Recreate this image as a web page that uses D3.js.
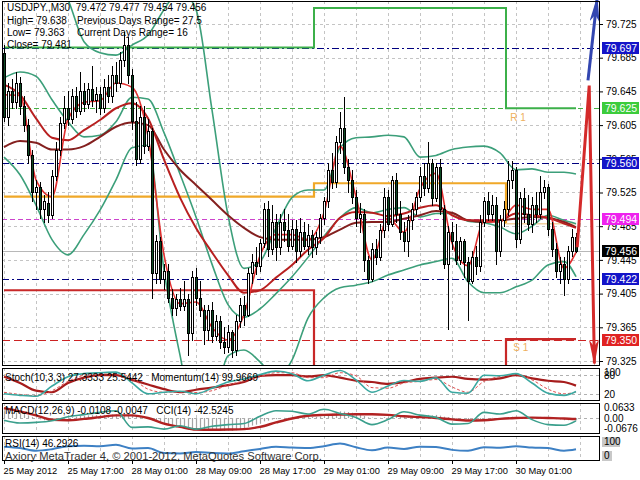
<!DOCTYPE html>
<html><head><meta charset="utf-8">
<script src="https://cdn.jsdelivr.net/npm/d3@7/dist/d3.min.js"></script>
<style>
html,body{margin:0;padding:0;background:#fff;}
svg{display:block;}
text{font-family:"Liberation Sans",Arial,sans-serif;}
</style></head><body>
<svg id="chart" width="640" height="480"></svg>
<script>
// ================= DATA =================
const barOpen=[79.690,79.615,79.645,79.632,79.655,79.628,79.605,79.570,79.525,79.532,
79.505,79.512,79.498,79.545,79.575,79.608,79.625,79.612,79.640,79.622,
79.645,79.630,79.648,79.635,79.642,79.625,79.650,79.640,79.665,79.655,
79.682,79.700,79.665,79.610,79.565,79.615,79.580,79.598,79.430,79.468,
79.422,79.432,79.400,79.388,79.398,79.390,79.398,79.358,79.425,79.400,
79.385,79.362,79.385,79.355,79.372,79.348,79.342,79.360,79.338,79.372,
79.392,79.380,79.430,79.442,79.438,79.465,79.505,79.458,79.490,79.460,
79.490,79.480,79.462,79.482,79.455,79.478,79.462,79.475,79.460,79.472,
79.495,79.515,79.552,79.538,79.585,79.602,79.555,79.540,79.520,79.495,
79.500,79.445,79.422,79.458,79.448,79.480,79.520,79.488,79.540,79.500,
79.478,79.468,79.492,79.505,79.520,79.545,79.530,79.560,79.518,79.555,
79.505,79.440,79.478,79.468,79.445,79.468,79.442,79.420,79.448,79.438,
79.490,79.515,79.500,79.510,79.455,79.492,79.505,79.540,79.552,79.470,
79.518,79.500,79.488,79.510,79.500,79.525,79.532,79.482,79.458,79.432,
79.440,79.422,79.455,79.472];
const barHigh=[79.700,79.655,79.660,79.668,79.662,79.640,79.612,79.575,79.540,79.538,
79.522,79.525,79.552,79.585,79.615,79.640,79.645,79.648,79.650,79.668,
79.655,79.655,79.675,79.650,79.650,79.660,79.665,79.675,79.680,79.692,
79.715,79.710,79.672,79.632,79.628,79.628,79.612,79.602,79.475,79.472,
79.440,79.440,79.410,79.405,79.412,79.420,79.405,79.432,79.435,79.420,
79.392,79.392,79.395,79.380,79.378,79.365,79.368,79.362,79.380,79.400,
79.402,79.435,79.452,79.460,79.470,79.512,79.515,79.510,79.500,79.500,
79.505,79.500,79.492,79.492,79.495,79.490,79.488,79.480,79.478,79.500,
79.520,79.560,79.572,79.592,79.620,79.638,79.565,79.552,79.528,79.512,
79.505,79.450,79.465,79.470,79.488,79.530,79.528,79.545,79.548,79.515,
79.490,79.498,79.512,79.525,79.555,79.560,79.585,79.565,79.560,79.565,
79.510,79.485,79.490,79.488,79.472,79.470,79.448,79.455,79.462,79.498,
79.520,79.525,79.522,79.520,79.498,79.515,79.562,79.562,79.555,79.525,
79.530,79.522,79.520,79.525,79.545,79.540,79.535,79.490,79.465,79.448,
79.448,79.462,79.482,79.477];
const barLow=[79.610,79.605,79.625,79.625,79.618,79.598,79.560,79.515,79.505,79.495,
79.490,79.490,79.495,79.540,79.570,79.602,79.605,79.608,79.615,79.618,
79.622,79.625,79.628,79.620,79.618,79.620,79.632,79.632,79.645,79.650,
79.675,79.655,79.600,79.558,79.560,79.572,79.575,79.400,79.418,79.418,
79.410,79.395,79.380,79.380,79.385,79.385,79.332,79.350,79.392,79.378,
79.345,79.350,79.348,79.350,79.340,79.335,79.336,79.330,79.332,79.365,
79.368,79.378,79.418,79.428,79.432,79.460,79.450,79.452,79.445,79.452,
79.468,79.455,79.458,79.443,79.450,79.458,79.452,79.448,79.452,79.465,
79.488,79.508,79.530,79.532,79.572,79.548,79.525,79.512,79.485,79.478,
79.432,79.418,79.420,79.440,79.445,79.472,79.480,79.485,79.490,79.470,
79.455,79.450,79.482,79.500,79.515,79.522,79.525,79.510,79.515,79.500,
79.435,79.363,79.458,79.440,79.440,79.425,79.374,79.418,79.428,79.432,
79.485,79.492,79.492,79.440,79.450,79.485,79.498,79.530,79.460,79.465,
79.490,79.480,79.478,79.490,79.495,79.518,79.475,79.450,79.425,79.418,
79.403,79.418,79.450,79.454];
const barClose=[79.615,79.645,79.632,79.655,79.628,79.605,79.570,79.525,79.532,79.505,
79.515,79.498,79.545,79.575,79.608,79.625,79.612,79.640,79.622,79.645,
79.630,79.648,79.635,79.642,79.625,79.650,79.640,79.665,79.655,79.682,
79.700,79.665,79.610,79.565,79.615,79.580,79.598,79.430,79.468,79.422,
79.432,79.400,79.388,79.398,79.390,79.398,79.358,79.425,79.400,79.385,
79.362,79.385,79.355,79.372,79.348,79.342,79.360,79.338,79.372,79.392,
79.380,79.430,79.442,79.438,79.465,79.505,79.458,79.490,79.460,79.490,
79.480,79.462,79.482,79.455,79.478,79.462,79.475,79.460,79.472,79.495,
79.515,79.552,79.538,79.585,79.602,79.555,79.540,79.520,79.495,79.500,
79.445,79.422,79.458,79.448,79.480,79.520,79.488,79.540,79.500,79.478,
79.468,79.492,79.505,79.520,79.545,79.530,79.560,79.518,79.555,79.505,
79.440,79.478,79.468,79.445,79.468,79.442,79.420,79.448,79.438,79.490,
79.515,79.500,79.510,79.455,79.492,79.505,79.540,79.552,79.470,79.518,
79.500,79.488,79.510,79.500,79.525,79.532,79.482,79.458,79.432,79.440,
79.422,79.455,79.472,79.456];

// indicator values read at these bar indices
const sampleBars=[0,4,8,12,16,20,24,28,32,36,40,44,48,52,56,60,64,68,72,76,80,84,88,92,96,100,104,108,112,116,120,124,128,132,136,140,143];
const bbUpper=[79.789,79.789,79.795,79.789,79.754,79.704,79.691,79.688,79.700,79.712,79.742,79.765,79.742,79.623,79.498,79.435,79.443,79.483,79.519,79.528,79.528,79.578,79.590,79.591,79.593,79.591,79.567,79.569,79.576,79.579,79.580,79.572,79.552,79.553,79.549,79.549,79.547];
const bbMiddle=[79.661,79.668,79.663,79.635,79.609,79.591,79.593,79.609,79.638,79.636,79.596,79.547,79.496,79.440,79.392,79.377,79.387,79.405,79.425,79.448,79.473,79.495,79.507,79.501,79.505,79.507,79.496,79.500,79.500,79.491,79.489,79.484,79.476,79.485,79.498,79.492,79.488];
const bbLower=[79.567,79.546,79.510,79.469,79.451,79.475,79.504,79.540,79.578,79.581,79.433,79.332,79.249,79.267,79.331,79.338,79.324,79.305,79.326,79.376,79.400,79.412,79.415,79.419,79.427,79.433,79.439,79.443,79.447,79.419,79.406,79.406,79.413,79.421,79.439,79.443,79.425];
const maFast=[79.641,79.640,79.540,79.520,79.612,79.632,79.634,79.655,79.650,79.592,79.451,79.393,79.395,79.365,79.350,79.380,79.450,79.475,79.475,79.469,79.501,79.580,79.520,79.445,79.495,79.478,79.530,79.548,79.465,79.438,79.490,79.490,79.510,79.505,79.505,79.435,79.454];
const maMid=[79.653,79.641,79.613,79.590,79.587,79.599,79.611,79.625,79.631,79.613,79.564,79.519,79.483,79.454,79.427,79.406,79.409,79.424,79.439,79.457,79.471,79.495,79.502,79.501,79.497,79.500,79.507,79.510,79.498,79.492,79.492,79.492,79.500,79.498,79.495,79.488,79.483];
const maSlow=[79.579,79.586,79.584,79.576,79.576,79.580,79.591,79.603,79.608,79.605,79.576,79.552,79.534,79.516,79.498,79.483,79.472,79.469,79.469,79.469,79.472,79.481,79.489,79.490,79.490,79.494,79.498,79.503,79.501,79.492,79.490,79.492,79.494,79.496,79.495,79.490,79.484];

const stochMain=[20,15,12,45,75,85,88,90,55,20,25,28,20,38,58,68,82,93,85,62,80,95,65,25,45,63,60,72,25,22,80,78,85,55,22,15,27.33];
const stochSignal=[25,18,14,30,60,80,86,88,70,35,25,26,24,30,48,62,75,88,88,72,72,88,78,40,38,55,60,66,42,25,60,76,82,65,35,20,25.54];
const momentum=[100.225,100.045,99.820,99.775,100.045,100.198,100.270,100.270,100.135,100.000,99.865,99.775,99.847,99.910,99.982,100.072,100.252,100.270,100.270,100.234,100.270,100.198,100.108,100.072,100.018,100.072,100.162,100.198,100.225,100.162,100.144,100.180,100.270,100.180,100.108,100.072,99.967];
const macdMain=[0.030,0.028,0.026,0.025,0.022,0.018,0.012,0.005,-0.001,-0.006,
-0.010,-0.013,-0.012,-0.010,-0.006,-0.002,0.001,0.004,0.006,0.009,
0.010,0.012,0.013,0.013,0.013,0.014,0.014,0.016,0.017,0.019,
0.022,0.021,0.016,0.009,0.008,0.005,0.004,-0.010,-0.016,-0.023,
-0.028,-0.034,-0.039,-0.042,-0.045,-0.047,-0.052,-0.050,-0.051,-0.052,
-0.054,-0.053,-0.055,-0.055,-0.057,-0.058,-0.057,-0.058,-0.055,-0.050,
-0.047,-0.040,-0.034,-0.030,-0.024,-0.015,-0.012,-0.007,-0.005,-0.001,
0.001,0.001,0.003,0.002,0.004,0.004,0.005,0.005,0.005,0.007,
0.010,0.016,0.019,0.025,0.030,0.029,0.027,0.024,0.019,0.016,
0.009,0.003,0.002,0.000,0.001,0.004,0.004,0.008,0.008,0.006,
0.004,0.005,0.006,0.007,0.010,0.011,0.014,0.012,0.014,0.011,
0.006,0.004,0.002,-0.001,-0.001,-0.003,-0.007,-0.007,-0.008,-0.004,
-0.001,0.000,0.001,-0.002,-0.001,0.000,0.004,0.006,0.002,0.003,
0.003,0.002,0.003,0.003,0.005,0.005,0.002,-0.001,-0.005,-0.007,
-0.010,-0.010,-0.009,-0.0108];
const macdSignal=[0.045,0.030,0.012,-0.008,-0.010,-0.004,0.004,0.012,0.012,0.000,-0.025,-0.040,-0.052,-0.053,-0.052,-0.050,-0.040,-0.020,-0.002,0.010,0.014,0.016,0.017,0.017,0.014,0.008,0.004,0.000,-0.006,-0.011,-0.010,-0.004,0.000,0.002,0.000,-0.002,-0.0047];
const cci=[-30,-80,-70,-40,30,70,110,140,-160,-150,-190,-130,-190,-140,-110,-90,40,140,130,80,165,90,20,-110,-20,120,60,20,-100,-90,110,80,140,-20,-110,-120,-42.52];
const rsi=[58,52,40,47,60,62,60,66,50,52,30,28,35,30,28,38,48,58,54,52,60,72,55,42,54,48,58,56,44,40,55,53,60,54,52,40,46.29];

const dateTickBars=[0,16,32,48,64,80,96,112,128];
const dateTickLabels=["25 May 2012","25 May 17:00","28 May 01:00","28 May 09:00","28 May 17:00","29 May 01:00","29 May 09:00","29 May 17:00","30 May 01:00"];
const priceTicks=[79.725,79.685,79.645,79.605,79.565,79.525,79.485,79.445,79.405,79.365,79.325];

const pivotBreakBars=[0,77.5,125.5,143];
const r1Values=[79.697,79.744,79.625];
const ppValues=[79.520,79.536,79.488];
const s1Values=[79.409,79.270,79.351];

const levelPrices=[79.697,79.625,79.560,79.494,79.456,79.422,79.350];

const forecastRedBars=[143.3,146.3,147.6];
const forecastRedPrices=[79.460,79.652,79.322];
const forecastBlueBars=[146,148.3];
const forecastBluePrices=[79.658,79.756];

const headerTitle="USDJPY.,M30  79.472 79.477 79.454 79.456";
const headerLeft=["High= 79.638","Low= 79.363","Close= 79.481"];
const headerRight=["Previous Days Range= 27.5","Current Days Range= 16"];
const stochLabel="Stoch(10,3,3) 27.3333 25.5442   Momentum(14) 99.9669";
const macdLabel="MACD(12,26,9) -0.0108 -0.0047   CCI(14) -42.5245";
const rsiLabel="RSI(14) 46.2926";
const watermark="Axiory MetaTrader 4, \u00A9 2001-2012, MetaQuotes Software Corp.";

// ================= DRAWING =================
const svg=d3.select("#chart");
const L=2, R=600;
const P={main:[1,366], stoch:[368,401], macd:[403,434], rsi:[436,461]};

const x=d3.scaleLinear().domain([0,144]).range([4,580]);
const y=d3.scaleLinear().domain([79.325,79.725]).range([361,24]);
const yStoch=d3.scaleLinear().domain([0,100]).range([P.stoch[1]-1,P.stoch[0]+1]);
const yMom=d3.scaleLinear().domain([99.55,100.45]).range([P.stoch[1]-1,P.stoch[0]+1]);
const yMacd=d3.scaleLinear().domain([-0.0676,0.0633]).range([P.macd[1]-1,P.macd[0]+1]);
const yCci=d3.scaleLinear().domain([-260,260]).range([P.macd[1]-1,P.macd[0]+1]);
const yRsi=d3.scaleLinear().domain([0,100]).range([P.rsi[1]-1,P.rsi[0]+1]);

const defs=svg.append("defs");
Object.entries(P).forEach(([k,v])=>{
  defs.append("clipPath").attr("id","clip-"+k).append("rect")
    .attr("x",L).attr("y",v[0]).attr("width",R-L).attr("height",v[1]-v[0]);
});
function mk(id,color){
  defs.append("marker").attr("id",id).attr("viewBox","0 0 26 10")
    .attr("refX",24).attr("refY",5).attr("markerWidth",26).attr("markerHeight",10)
    .attr("markerUnits","userSpaceOnUse").attr("orient","auto")
    .append("path").attr("d","M0,0 L26,5 L0,10 L7,5 Z").attr("fill",color);
}
mk("arrBlue","#3346b0"); mk("arrRed","#d42a2a");

svg.append("rect").attr("width",640).attr("height",480).attr("fill","#fff");

// ---- grids ----
const vGridBars=d3.range(0,145,8);
Object.entries(P).forEach(([k,v])=>{
  svg.append("g").selectAll("line").data(vGridBars).join("line")
    .attr("x1",d=>Math.round(x(d))+0.5).attr("x2",d=>Math.round(x(d))+0.5)
    .attr("y1",v[0]).attr("y2",v[1])
    .attr("stroke","#c4c4c4").attr("stroke-dasharray","3,3").attr("stroke-width",1);
});
svg.append("g").selectAll("line").data(priceTicks).join("line")
  .attr("x1",L).attr("x2",R).attr("y1",d=>Math.round(y(d))+0.5).attr("y2",d=>Math.round(y(d))+0.5)
  .attr("stroke","#c4c4c4").attr("stroke-dasharray","3,3");

// ---- main panel ----
const gm=svg.append("g").attr("clip-path","url(#clip-main)");

const levelStyle=[
 {c:"#000080",d:"7,3,2,3"},{c:"#44b044",d:"5,3"},{c:"#000080",d:"7,3,2,3"},
 {c:"#cc44cc",d:"5,3"},{c:"#b8b8b8",d:null},{c:"#000080",d:"7,3,2,3"},{c:"#cc2222",d:"8,4"}];
gm.selectAll("line.lvl").data(levelPrices).join("line").attr("class","lvl")
  .attr("x1",L).attr("x2",R)
  .attr("y1",d=>Math.round(y(d))+0.5).attr("y2",d=>Math.round(y(d))+0.5)
  .attr("stroke",(d,i)=>levelStyle[i].c).attr("stroke-dasharray",(d,i)=>levelStyle[i].d);

function stepPts(vals){
  const pts=[];
  vals.forEach((v,i)=>{pts.push([pivotBreakBars[i],v]);});
  pts.push([pivotBreakBars[pivotBreakBars.length-1],vals[vals.length-1]]);
  return pts;
}
const stepLine=d3.line().x(d=>x(d[0])).y(d=>y(d[1])).curve(d3.curveStepAfter);
gm.append("path").attr("d",stepLine(stepPts(r1Values))).attr("fill","none").attr("stroke","#3cb04a").attr("stroke-width",2);
gm.append("path").attr("d",stepLine([[0,ppValues[0]],[pivotBreakBars[1],ppValues[1]],[pivotBreakBars[2],ppValues[2]]]))
  .attr("fill","none").attr("stroke","#f0a828").attr("stroke-width",2.2);
gm.append("path").attr("d",stepLine([[pivotBreakBars[2],ppValues[2]],[pivotBreakBars[3],ppValues[2]]]))
  .attr("fill","none").attr("stroke","#f2d2a0").attr("stroke-width",1.5);
gm.append("path").attr("d",stepLine(stepPts(s1Values))).attr("fill","none").attr("stroke","#c82828").attr("stroke-width",2.2);

const sline=(ys)=>d3.line().x((d,i)=>x(sampleBars[i])).y(d=>ys(d)).curve(d3.curveMonotoneX);
function drawS(g,arr,ys,color,w,dash){
  g.append("path").datum(arr).attr("d",sline(ys)).attr("fill","none")
   .attr("stroke",color).attr("stroke-width",w).attr("stroke-dasharray",dash||null)
   .attr("stroke-linejoin","round");
}
drawS(gm,bbUpper,y,"#3c9f7a",1.6);
drawS(gm,bbMiddle,y,"#3c9f7a",1.6);
drawS(gm,bbLower,y,"#3c9f7a",1.6);
drawS(gm,maSlow,y,"#84201f",2);
drawS(gm,maMid,y,"#b82020",2);
drawS(gm,maFast,y,"#e03030",1.6);

const bars=d3.range(barOpen.length);
const gc=gm.append("g");
gc.selectAll("line").data(bars).join("line")
  .attr("x1",i=>Math.round(x(i))+0.5).attr("x2",i=>Math.round(x(i))+0.5)
  .attr("y1",i=>Math.round(y(barHigh[i]))).attr("y2",i=>Math.round(y(barLow[i]))+1)
  .attr("stroke","#000").attr("stroke-width",1);
gc.selectAll("rect").data(bars).join("rect")
  .attr("x",i=>Math.round(x(i))-0.5).attr("width",2)
  .attr("y",i=>Math.round(y(Math.max(barOpen[i],barClose[i])))+0.5)
  .attr("height",i=>Math.max(1,Math.round(y(Math.min(barOpen[i],barClose[i])))-Math.round(y(Math.max(barOpen[i],barClose[i])))))
  .attr("fill",i=>barClose[i]>=barOpen[i]?"#ffffff":"#0e4a24")
  .attr("stroke","#000").attr("stroke-width",1);

gm.append("text").attr("x",x(128.5)).attr("y",y(r1Values[2])+13).attr("text-anchor","middle")
  .attr("font-size",10).attr("fill","#eeb060").text("R 1");
gm.append("text").attr("x",x(129.2)).attr("y",y(s1Values[2])+12).attr("text-anchor","middle")
  .attr("font-size",10).attr("fill","#eeb060").text("S 1");

// forecast arrows (kept inside the main panel)
const fl=d3.line().x(d=>x(d[0])).y(d=>y(d[1]));
svg.append("path").attr("d",fl(forecastRedBars.map((b,i)=>[b,forecastRedPrices[i]])))
  .attr("fill","none").attr("stroke","#d42a2a").attr("stroke-width",3).attr("marker-end","url(#arrRed)");
svg.append("path").attr("d",fl(forecastBlueBars.map((b,i)=>[b,forecastBluePrices[i]])))
  .attr("fill","none").attr("stroke","#3346b0").attr("stroke-width",3).attr("marker-end","url(#arrBlue)");

const ht=svg.append("g").attr("font-size",10).attr("fill","#000");
ht.append("text").attr("x",7).attr("y",11).attr("xml:space","preserve").text(headerTitle);
headerLeft.forEach((t,i)=>ht.append("text").attr("x",7).attr("y",24+i*12).text(t));
headerRight.forEach((t,i)=>ht.append("text").attr("x",77).attr("y",24+i*12).text(t));

// ---- stoch / momentum panel ----
const gs=svg.append("g").attr("clip-path","url(#clip-stoch)");
[80,20].forEach(v=>gs.append("line").attr("x1",L).attr("x2",R).attr("y1",Math.round(yStoch(v))+0.5).attr("y2",Math.round(yStoch(v))+0.5)
  .attr("stroke","#b0b0b0").attr("stroke-dasharray","3,3"));
drawS(gs,momentum,yMom,"#a61c1c",2.2);
drawS(gs,stochSignal,yStoch,"#e05050",1,"3,2");
drawS(gs,stochMain,yStoch,"#3aa8a0",1.6);
svg.append("text").attr("x",5).attr("y",381).attr("font-size",10).attr("xml:space","preserve").text(stochLabel);

// ---- macd / cci panel ----
const gd=svg.append("g").attr("clip-path","url(#clip-macd)");
gd.selectAll("line.h").data(bars).join("line").attr("class","h")
  .attr("x1",i=>Math.round(x(i))+0.5).attr("x2",i=>Math.round(x(i))+0.5)
  .attr("y1",Math.round(yMacd(0))).attr("y2",i=>yMacd(macdMain[i]))
  .attr("stroke","#a4a4a4").attr("stroke-width",1.2);
gd.append("line").attr("x1",L).attr("x2",R).attr("y1",Math.round(yMacd(0))+0.5).attr("y2",Math.round(yMacd(0))+0.5)
  .attr("stroke","#b0b0b0").attr("stroke-dasharray","3,3");
drawS(gd,macdSignal,yMacd,"#b22222",2.4);
drawS(gd,cci,yCci,"#3a9f8c",1.6);
svg.append("text").attr("x",5).attr("y",414).attr("font-size",10).attr("xml:space","preserve").text(macdLabel);

// ---- rsi panel ----
const gr=svg.append("g").attr("clip-path","url(#clip-rsi)");
drawS(gr,rsi,yRsi,"#3d80c4",2);
svg.append("text").attr("x",5).attr("y",447).attr("font-size",10).text(rsiLabel);
svg.append("text").attr("x",5).attr("y",460).attr("font-size",11.2).attr("fill","#333").text(watermark);

// ---- frames ----
Object.values(P).forEach(v=>{
  svg.append("rect").attr("x",L+0.5).attr("y",v[0]+0.5).attr("width",R-L-1).attr("height",v[1]-v[0]-1)
    .attr("fill","none").attr("stroke","#000").attr("stroke-width",1);
});

// ---- price axis ----
const ax=svg.append("g").attr("transform",`translate(${R},0)`)
  .call(d3.axisRight(y).tickValues(priceTicks).tickFormat(d3.format(".3f")).tickSize(3).tickPadding(3));
ax.select(".domain").remove();
ax.selectAll("text").attr("font-size",10).attr("font-family","Liberation Sans, Arial, sans-serif").attr("fill","#000");
ax.selectAll("line").attr("stroke","#000");

const lvlBg=["#1414c8","#3ccc3c","#1414c8","#ee22ee","#000000","#1414c8","#e02222"];
const lg=svg.append("g");
levelPrices.forEach((p,i)=>{
  const yy=Math.round(y(p));
  lg.append("rect").attr("x",R+2).attr("y",yy-6).attr("width",37).attr("height",12).attr("fill",lvlBg[i]);
  lg.append("text").attr("x",R+5).attr("y",yy+4).attr("font-size",10.5).attr("fill","#fff").text(d3.format(".3f")(p));
});

const sl=svg.append("g").attr("font-size",10).attr("fill","#000");
sl.append("text").attr("x",R+4).attr("y",P.stoch[0]+8).text("100");
sl.append("text").attr("x",R+4).attr("y",yStoch(80)+4).text("80");
sl.append("text").attr("x",R+4).attr("y",yStoch(20)+4).text("20");
sl.append("text").attr("x",R+4).attr("y",P.macd[0]+8).text("0.0633");
sl.append("text").attr("x",R+4).attr("y",yMacd(0)+4).text("0.00");
sl.append("text").attr("x",R+4).attr("y",P.macd[1]-2).text("-0.0676");
sl.append("rect").attr("x",R+2).attr("y",P.rsi[0]+1).attr("width",18).attr("height",10).attr("fill","#c8c8c8");
sl.append("rect").attr("x",R+2).attr("y",P.rsi[1]-10).attr("width",10).attr("height",10).attr("fill","#c8c8c8");
sl.append("text").attr("x",R+4).attr("y",P.rsi[0]+9).text("100");
sl.append("text").attr("x",R+4).attr("y",P.rsi[1]-2).text("0");

// ---- date axis ----
const dx=svg.append("g").attr("transform",`translate(0,${P.rsi[1]})`)
  .call(d3.axisBottom(x).tickValues(dateTickBars).tickFormat((d,i)=>dateTickLabels[i]).tickSize(3));
dx.select(".domain").remove();
dx.selectAll("line").attr("stroke","#000");
dx.selectAll("text").attr("text-anchor","start").attr("x",-1).attr("font-size",9.3)
  .attr("font-family","Liberation Sans, Arial, sans-serif").attr("fill","#000");
</script>
</body></html>
